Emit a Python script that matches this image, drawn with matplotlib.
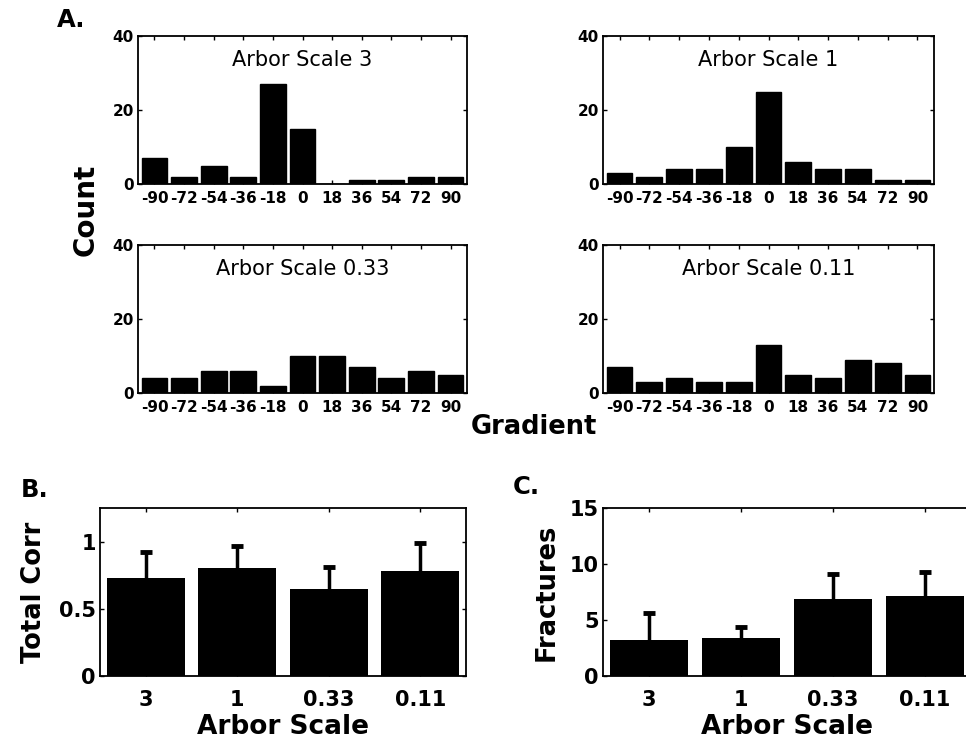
import matplotlib
matplotlib.use("Agg")
import matplotlib.pyplot as plt

plt.rcParams['font.family'] = ['DejaVu Sans']
plt.rcParams['axes.unicode_minus'] = False

# ---- data ----
gradient_bins = [-90, -72, -54, -36, -18, 0, 18, 36, 54, 72, 90]
hist_titles = ["Arbor Scale 3", "Arbor Scale 1", "Arbor Scale 0.33", "Arbor Scale 0.11"]
counts_scale3 = [7, 2, 5, 2, 27, 15, 0, 1, 1, 2, 2]
counts_scale1 = [3, 2, 4, 4, 10, 25, 6, 4, 4, 1, 1]
counts_scale033 = [4, 4, 6, 6, 2, 10, 10, 7, 4, 6, 5]
counts_scale011 = [7, 3, 4, 3, 3, 13, 5, 4, 9, 8, 5]

arbor_labels = ["3", "1", "0.33", "0.11"]
total_corr = [0.73, 0.80, 0.65, 0.78]
total_corr_err = [0.19, 0.17, 0.16, 0.21]
fractures = [3.2, 3.4, 6.9, 7.1]
fractures_err = [2.4, 1.0, 2.2, 2.2]

W, H = 966, 742
fig = plt.figure(figsize=(W / 100, H / 100), dpi=100)


def add_ax(x0, y0, x1, y1):
    return fig.add_axes([x0 / W, (H - y1) / H, (x1 - x0) / W, (y1 - y0) / H])


def style(ax, lw=1.3):
    for s in ax.spines.values():
        s.set_linewidth(lw)
    ax.tick_params(direction='in', top=True, right=True, length=3, width=1)


hist_rects = [(138, 36, 467, 184), (603, 36, 934, 184),
              (138, 245, 467, 393), (603, 245, 934, 393)]
hist_data = [counts_scale3, counts_scale1, counts_scale033, counts_scale011]

for rect, counts, title in zip(hist_rects, hist_data, hist_titles):
    ax = add_ax(*rect)
    ax.bar(gradient_bins, counts, width=15.6, color='black', edgecolor='black')
    ax.set_xlim(-100, 100)
    ax.set_ylim(0, 40)
    ax.set_xticks(gradient_bins)
    ax.set_xticklabels([str(v) for v in gradient_bins])
    ax.set_yticks([0, 20, 40])
    style(ax)
    ax.tick_params(labelsize=11)
    ax.tick_params(axis='x', pad=5)
    ax.tick_params(axis='y', pad=3)
    for lab in ax.get_xticklabels() + ax.get_yticklabels():
        lab.set_fontweight('bold')
    ax.text(0.5, 0.84, title, transform=ax.transAxes, ha='center', va='center',
            fontsize=15)

fig.text(71 / W, 1 - 20 / H, "A.", fontsize=17.5, fontweight='bold', ha='center', va='center')
fig.text(86 / W, 1 - 210 / H, "Count", fontsize=20, fontweight='bold', rotation=90,
         ha='center', va='center')
fig.text(534 / W, 1 - 427 / H, "Gradient", fontsize=18.5, fontweight='bold',
         ha='center', va='center')

xpos = [1, 2, 3, 4]


def bar_panel(ax, vals, errs, ylim, yticks, yticklabels, ylabel, ylab_x):
    ax.bar(xpos, vals, width=0.85, color='black')
    _, caps, _ = ax.errorbar(xpos, vals, yerr=[[0] * len(vals), errs], fmt='none',
                             ecolor='black', elinewidth=2.5, capsize=4, capthick=3.5)
    caps[0].set_visible(False)
    ax.set_xlim(0.5, 4.5)
    ax.set_ylim(*ylim)
    ax.set_yticks(yticks)
    ax.set_yticklabels(yticklabels)
    ax.set_xticks(xpos)
    ax.set_xticklabels(arbor_labels)
    style(ax)
    ax.tick_params(labelsize=15)
    ax.tick_params(axis='x', pad=10)
    ax.tick_params(axis='y', pad=3)
    for lab in ax.get_xticklabels() + ax.get_yticklabels():
        lab.set_fontweight('bold')
    yl = ax.set_ylabel(ylabel, fontsize=18.5, fontweight='bold')
    yl.set_va('center')
    ax.yaxis.set_label_coords(ylab_x, 0.5)
    xl = ax.set_xlabel("Arbor Scale", fontsize=19, fontweight='bold')
    xl.set_va('center')
    ax.xaxis.set_label_coords(0.5, -(727 - 676) / 168)


# ---- B ----
axB = add_ax(100, 508, 466, 676)
bar_panel(axB, total_corr, total_corr_err, (0, 1.25), [0, 0.5, 1], ["0", "0.5", "1"],
          "Total Corr", (34 - 100) / 366)
fig.text(35 / W, 1 - 490 / H, "B.", fontsize=17.5, fontweight='bold', ha='center', va='center')

# ---- C ----
axC = add_ax(603, 508, 971, 676)
bar_panel(axC, fractures, fractures_err, (0, 15), [0, 5, 10, 15], ["0", "5", "10", "15"],
          "Fractures", (547 - 603) / 368)
fig.text(526 / W, 1 - 487 / H, "C.", fontsize=17.5, fontweight='bold', ha='center', va='center')

fig.savefig("out.png", dpi=100)
